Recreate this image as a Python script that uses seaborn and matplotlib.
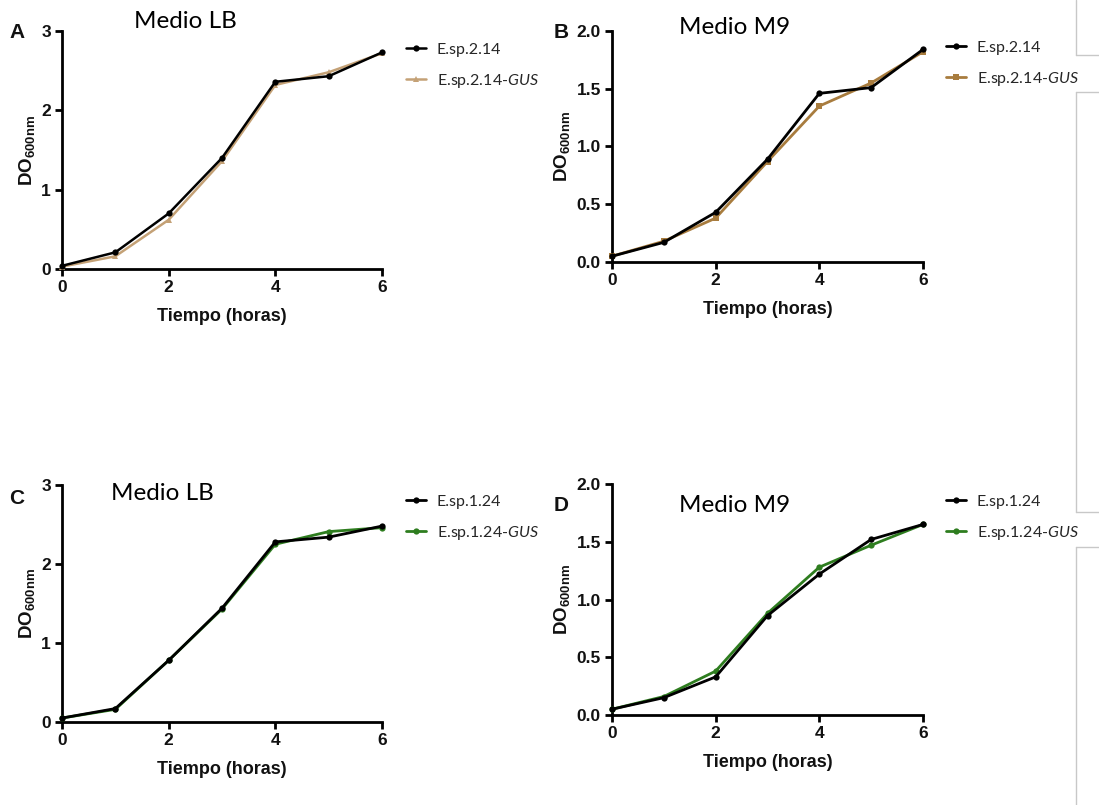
import matplotlib
matplotlib.use("Agg")
import matplotlib.pyplot as plt
from matplotlib.lines import Line2D
import seaborn as sns
import pandas as pd

# ---------------- data ----------------
hours = [0, 1, 2, 3, 4, 5, 6]
a_wt = [0.04, 0.21, 0.70, 1.40, 2.36, 2.43, 2.73]
a_gus = [0.03, 0.16, 0.62, 1.36, 2.32, 2.48, 2.72]
b_wt = [0.05, 0.17, 0.43, 0.89, 1.46, 1.51, 1.84]
b_gus = [0.05, 0.18, 0.38, 0.87, 1.35, 1.55, 1.82]
c_wt = [0.05, 0.17, 0.78, 1.44, 2.28, 2.34, 2.48]
c_gus = [0.05, 0.16, 0.78, 1.43, 2.25, 2.41, 2.46]
d_wt = [0.05, 0.15, 0.33, 0.86, 1.22, 1.52, 1.65]
d_gus = [0.05, 0.16, 0.38, 0.88, 1.28, 1.47, 1.65]

strain_a = ["E.sp.2.14", "E.sp.2.14-$\\mathit{GUS}$"]
strain_c = ["E.sp.1.24", "E.sp.1.24-$\\mathit{GUS}$"]
titles = ["Medio LB", "Medio M9", "Medio LB", "Medio M9"]
letters = ["A", "B", "C", "D"]
xticks = [0, 2, 4, 6]
yticks_lb = [0, 1, 2, 3]
yticks_m9 = [0.0, 0.5, 1.0, 1.5, 2.0]
xlabel = "Tiempo (horas)"
ylabel = r"$\mathbf{DO}_{\mathbf{600nm}}$"

sns.set_theme(style="ticks")
plt.rcParams["font.family"] = ["Liberation Sans", "DejaVu Sans"]
plt.rcParams["mathtext.fontset"] = "custom"
plt.rcParams["mathtext.bf"] = "Liberation Sans:bold"
plt.rcParams["mathtext.it"] = "Lato:italic"
plt.rcParams["mathtext.rm"] = "Lato"

W, H = 1099, 805
fig = plt.figure(figsize=(W / 100, H / 100), dpi=100)


def rect(l, t, r, b):
    return [l / W, 1 - b / H, (r - l) / W, (b - t) / H]


panels = [
    dict(box=(62, 31, 382, 269), wt=a_wt, gus=a_gus, names=strain_a,
         col="#C4A176", mk="^", yt=yticks_lb, yfmt="{:.0f}",
         title_xy=(185, 22), letter_xy=(17, 33), leg_xy=(400, 36)),
    dict(box=(612, 31, 923, 262), wt=b_wt, gus=b_gus, names=strain_a,
         col="#A87C3E", mk="s", yt=yticks_m9, yfmt="{:.1f}",
         title_xy=(735, 28), letter_xy=(561, 33), leg_xy=(940, 34)),
    dict(box=(62, 485, 382, 722), wt=c_wt, gus=c_gus, names=strain_c,
         col="#2E7D1F", mk="o", yt=yticks_lb, yfmt="{:.0f}",
         title_xy=(162, 493), letter_xy=(17, 498), leg_xy=(400, 488)),
    dict(box=(612, 484, 923, 715), wt=d_wt, gus=d_gus, names=strain_c,
         col="#2E7D1F", mk="o", yt=yticks_m9, yfmt="{:.1f}",
         title_xy=(735, 505), letter_xy=(561, 505), leg_xy=(940, 488)),
]

for i, p in enumerate(panels):
    ax = fig.add_axes(rect(*p["box"]))
    df = pd.DataFrame({
        "t": hours * 2,
        "od": p["wt"] + p["gus"],
        "cepa": [p["names"][0]] * len(hours) + [p["names"][1]] * len(hours),
    })
    sns.lineplot(data=df, x="t", y="od", hue="cepa", style="cepa",
                 palette=["black", p["col"]], markers=["o", p["mk"]],
                 dashes=False, markersize=4.5, markeredgewidth=0,
                 linewidth=2.0 if i != 0 else 1.8, ax=ax, clip_on=False,
                 hue_order=p["names"], style_order=p["names"])
    lines = ax.get_lines()
    if len(lines) >= 2:
        lines[0].set_zorder(4)
        lines[1].set_zorder(3)
    ax.set_xlim(0, 6)
    ax.set_ylim(p["yt"][0], p["yt"][-1])
    ax.set_xticks(xticks)
    ax.set_yticks(p["yt"])
    ax.set_xticklabels([str(v) for v in xticks], fontweight="bold", fontsize=12.5)
    ax.set_yticklabels([p["yfmt"].format(v) for v in p["yt"]],
                       fontweight="bold", fontsize=12.5)
    sns.despine(ax=ax)
    for s in ["left", "bottom"]:
        ax.spines[s].set_linewidth(2.0)
        ax.spines[s].set_color("black")
    ax.tick_params(axis="both", direction="out", length=5, width=2,
                   color="black", pad=3, labelcolor="#111111")
    ax.set_xlabel(xlabel, fontweight="bold", fontsize=13, labelpad=9,
                  color="#111111")
    ax.set_ylabel(ylabel, fontsize=13.5, labelpad=3, color="#111111")
    ax.grid(False)

    handles, labels = ax.get_legend_handles_labels()
    ax.legend(handles, labels, loc="upper left",
              bbox_to_anchor=(p["leg_xy"][0] / W, 1 - p["leg_xy"][1] / H),
              bbox_transform=fig.transFigure, frameon=False,
              prop={"family": "Lato", "size": 11.5}, handlelength=1.2,
              handletextpad=0.7, labelspacing=0.95, borderaxespad=0)

    fig.text(p["title_xy"][0] / W, 1 - p["title_xy"][1] / H, titles[i],
             family="Lato", fontsize=17.5, ha="center", va="center",
             color="black")
    fig.text(p["letter_xy"][0] / W, 1 - p["letter_xy"][1] / H, letters[i],
             fontweight="bold", fontsize=15, ha="center", va="center",
             color="#111111")

# text-box border remnants on the right side
gray = "#C8C8C8"
xv = 1075.5 / W
segs = [
    ([xv, xv], [1, 1 - 55 / H]),
    ([xv, 1], [1 - 55 / H, 1 - 55 / H]),
    ([xv, 1], [1 - 92 / H, 1 - 92 / H]),
    ([xv, xv], [1 - 92 / H, 1 - 512 / H]),
    ([xv, 1], [1 - 512 / H, 1 - 512 / H]),
    ([xv, 1], [1 - 547 / H, 1 - 547 / H]),
    ([xv, xv], [1 - 547 / H, 0]),
]
for xs, ys in segs:
    fig.add_artist(Line2D(xs, ys, color=gray, linewidth=1.0,
                          transform=fig.transFigure, zorder=0))

fig.savefig("out.png", dpi=100)
